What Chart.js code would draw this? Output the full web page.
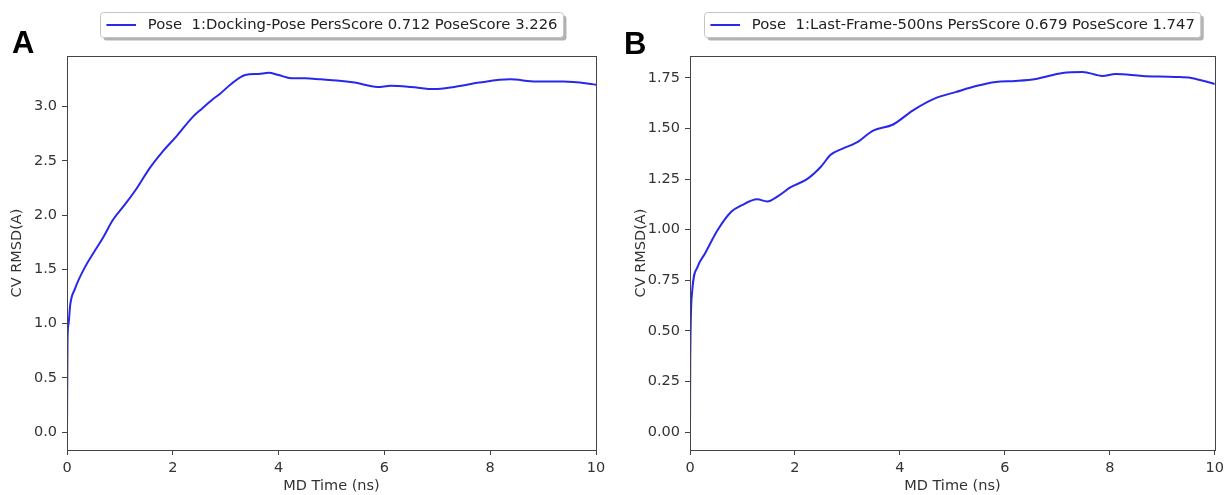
<!DOCTYPE html>
<html>
<head>
<meta charset="utf-8">
<script src="https://cdn.jsdelivr.net/npm/chart.js@4.4.1/dist/chart.umd.min.js"></script>
<style>
  body { margin: 0; background: #fff; }
  #wrap { position: relative; width: 1229px; height: 495px; overflow: hidden; }
  .panel { position: absolute; top: 0; }
  .letter { position: absolute; font: bold 31px "Liberation Sans", Arial, sans-serif; line-height: 1; color: #000; }
</style>
</head>
<body>
<div id="wrap">
  <canvas id="chartA" class="panel" width="614" height="495" style="left:0"></canvas>
  <canvas id="chartB" class="panel" width="615" height="495" style="left:614px"></canvas>
  <div class="letter" style="left:12px; top:27px">A</div>
  <div class="letter" style="left:624px; top:28px">B</div>
</div>
<script>
// panel A : docking pose
var timeA = [0, 0.01, 0.03, 0.06, 0.15, 0.34, 0.5, 0.68, 0.86, 1.1, 1.31, 1.56, 1.8, 2.06, 2.37, 2.55, 2.74, 2.9,
             3.11, 3.37, 3.62, 3.81, 4.0, 4.24, 4.5, 4.8, 5.1, 5.44, 5.87, 6.12, 6.5, 6.94, 7.32, 7.8, 8.37, 8.87,
             9.38, 9.87, 10];
var rmsdA = [0.0, 0.85, 1.0, 1.17, 1.32, 1.52, 1.65, 1.79, 1.95, 2.10, 2.24, 2.43, 2.58, 2.72, 2.90, 2.98, 3.06, 3.12,
             3.21, 3.29, 3.30, 3.31, 3.29, 3.26, 3.26, 3.25, 3.24, 3.22, 3.18, 3.19, 3.18, 3.16, 3.18, 3.22, 3.25, 3.23,
             3.23, 3.21, 3.20];

// panel B : last frame 500ns
var timeB = [0, 0.005, 0.04, 0.15, 0.28, 0.53, 0.79, 0.98, 1.28, 1.47, 1.7, 1.92, 2.23, 2.49, 2.68, 2.9, 3.17, 3.49,
             3.87, 4.25, 4.68, 5.06, 5.45, 5.83, 6.2, 6.59, 7.1, 7.48, 7.86, 8.11, 8.62, 9.24, 9.55, 10];
var rmsdB = [0.0, 0.36, 0.69, 0.82, 0.88, 1.00, 1.09, 1.12, 1.15, 1.14, 1.17, 1.21, 1.25, 1.31, 1.37, 1.40, 1.43, 1.49,
             1.52, 1.59, 1.65, 1.68, 1.71, 1.73, 1.735, 1.745, 1.775, 1.78, 1.76, 1.77, 1.76, 1.755, 1.75, 1.72];

var legendA = 'Pose  1:Docking-Pose PersScore 0.712 PoseScore 3.226';
var legendB = 'Pose  1:Last-Frame-500ns PersScore 0.679 PoseScore 1.747';
var xTitle = 'MD Time (ns)';
var yTitle = 'CV RMSD(A)';
var yDecimalsA = 1, yDecimalsB = 2;

var lineColor = 'rgb(40,40,235)';
var axisColor = '#444';
var fontSize = 14.5;
var legendFontSize = 14.8;
var fontFamily = '"DejaVu Sans", sans-serif';

function roundRect(ctx, x, y, w, h, r) {
    ctx.beginPath();
    ctx.moveTo(x + r, y);
    ctx.lineTo(x + w - r, y);
    ctx.quadraticCurveTo(x + w, y, x + w, y + r);
    ctx.lineTo(x + w, y + h - r);
    ctx.quadraticCurveTo(x + w, y + h, x + w - r, y + h);
    ctx.lineTo(x + r, y + h);
    ctx.quadraticCurveTo(x, y + h, x, y + h - r);
    ctx.lineTo(x, y + r);
    ctx.quadraticCurveTo(x, y, x + r, y);
    ctx.closePath();
}

// frame around the plot + matplotlib style legend box
var framePlugin = {
    id: 'frame',
    afterDatasetsDraw: function(chart) {
        var ctx = chart.ctx, a = chart.chartArea;
        ctx.save();
        ctx.strokeStyle = axisColor;
        ctx.lineWidth = 1;
        ctx.strokeRect(Math.round(a.left) + 0.5, Math.round(a.top) + 0.5,
                       Math.round(a.right - a.left), Math.round(a.bottom - a.top));
        ctx.restore();
    },
    afterDraw: function(chart, args, opts) {
        var ctx = chart.ctx, a = chart.chartArea;
        var fs = legendFontSize;
        ctx.save();
        ctx.font = fs + 'px ' + fontFamily;
        var tw = ctx.measureText(opts.label).width;
        var w = tw + 3.6 * fs, h = 25;
        var x = Math.round((a.left + a.right) / 2 - w / 2) + 0.5, y = 12.5;
        // shadow
        ctx.fillStyle = 'rgba(0,0,0,0.3)';
        roundRect(ctx, x + 3, y + 3, w, h, 3);
        ctx.fill();
        ctx.fillStyle = '#fff';
        roundRect(ctx, x, y, w, h, 3);
        ctx.fill();
        ctx.strokeStyle = '#c4c4c4';
        ctx.lineWidth = 1;
        ctx.stroke();
        // handle
        ctx.strokeStyle = lineColor;
        ctx.lineWidth = 2;
        ctx.beginPath();
        ctx.moveTo(x + 0.4 * fs, y + h / 2);
        ctx.lineTo(x + 2.4 * fs, y + h / 2);
        ctx.stroke();
        // text
        ctx.fillStyle = '#222';
        ctx.textBaseline = 'middle';
        ctx.fillText(opts.label, x + 3.2 * fs, y + h / 2 + 0.5);
        ctx.restore();
    }
};

function makeChart(id, times, values, label, yMin, yMax, yStep, decimals, pad, yWidth) {
    var ctx = document.getElementById(id).getContext('2d');
    var points = times.map(function(t, i) { return { x: t, y: values[i] }; });

    var tickFont = { family: fontFamily, size: fontSize };

    return new Chart(ctx, {
        type: 'line',
        data: {
            datasets: [{
                label: label,
                data: points,
                borderColor: lineColor,
                borderWidth: 2,
                pointRadius: 0,
                fill: false,
                cubicInterpolationMode: 'monotone'
            }]
        },
        options: {
            responsive: false,
            animation: false,
            devicePixelRatio: 1,
            layout: { padding: pad },
            plugins: {
                legend: { display: false },
                tooltip: { enabled: false },
                frame: { label: label }
            },
            scales: {
                x: {
                    type: 'linear',
                    min: 0,
                    max: 10,
                    border: { display: false },
                    grid: { drawOnChartArea: false, drawTicks: true, tickLength: 5, tickColor: axisColor },
                    ticks: { stepSize: 2, padding: 5, color: '#333', font: tickFont, maxRotation: 0 },
                    title: { display: true, text: xTitle, color: '#333', font: tickFont, padding: { top: 0, bottom: 0 } },
                    afterFit: function(scale) { scale.height = 45; }
                },
                y: {
                    type: 'linear',
                    min: yMin,
                    max: yMax,
                    border: { display: false },
                    grid: { drawOnChartArea: false, drawTicks: true, tickLength: 5, tickColor: axisColor },
                    ticks: {
                        stepSize: yStep,
                        includeBounds: false,
                        autoSkip: false,
                        padding: 5,
                        color: '#333',
                        font: tickFont,
                        callback: function(v) { return v.toFixed(decimals); }
                    },
                    title: { display: true, text: yTitle, color: '#333', font: tickFont, padding: { top: 8.3, bottom: 0 } },
                    afterFit: function(scale) { scale.width = yWidth; }
                }
            }
        },
        plugins: [framePlugin]
    });
}

var chartA = makeChart('chartA', timeA, rmsdA, legendA, -0.165, 3.465, 0.5, yDecimalsA,
                       { left: 0, right: 18, top: 56, bottom: 0 }, 67);
var chartB = makeChart('chartB', timeB, rmsdB, legendB, -0.0885, 1.8585, 0.25, yDecimalsB,
                       { left: 10, right: 11, top: 56, bottom: 0 }, 66);
</script>
</body>
</html>
